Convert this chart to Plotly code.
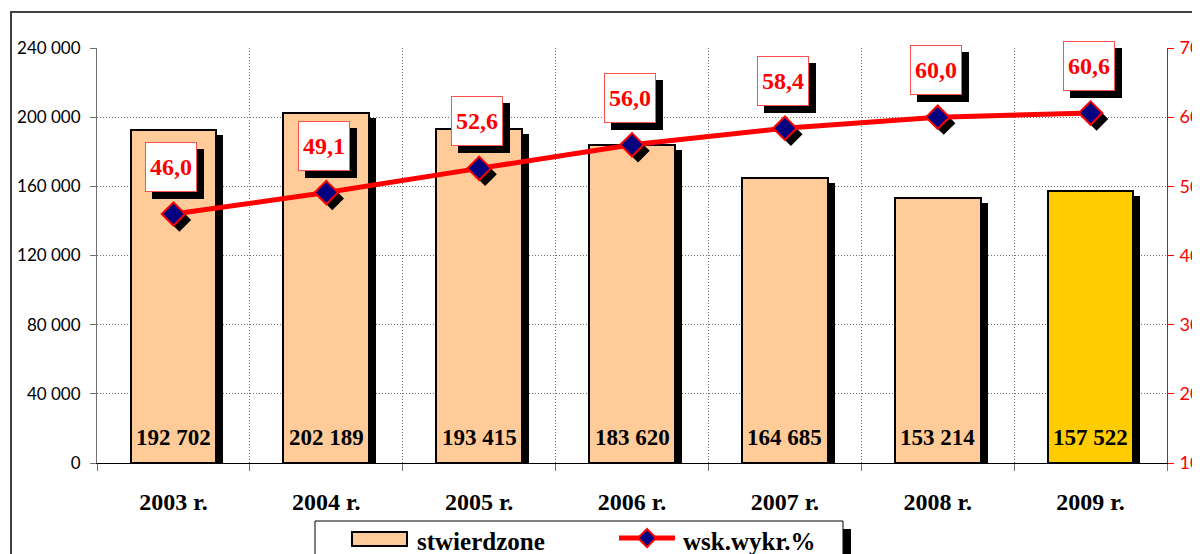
import plotly.graph_objects as go

# ---------------- data ----------------
years = ["2003 r.", "2004 r.", "2005 r.", "2006 r.", "2007 r.", "2008 r.", "2009 r."]
stwierdzone = [192702, 202189, 193415, 183620, 164685, 153214, 157522]
wsk_wykr = [46.0, 49.1, 52.6, 56.0, 58.4, 60.0, 60.6]
left_ticks = [0, 40000, 80000, 120000, 160000, 200000, 240000]
right_ticks = [10, 20, 30, 40, 50, 60, 70]
series_names = ["stwierdzone", "wsk.wykr.%"]

# ---------------- layout geometry / styles ----------------
OFF = 8  # page body margin
W, H = 1200 - OFF, 554 - OFF
PL, PR, PT, PB = 97 - OFF, 1167 - OFF, 48 - OFF, 463 - OFF
PW, PH = PR - PL, PB - PT
Y1 = (0, 240000)
Y2 = (10, 70)
N = len(years)
unit_px = PW / N  # px per category

PEACH, GOLD = "#FFCC99", "#FFCC00"
bar_colors = [PEACH] * (N - 1) + [GOLD]
SERIF = "Liberation Serif"
SANS = "Lato"
GRID = "#707070"
RED = "#FF0000"
NAVY = "#000080"

x = list(range(N))
bar_w = 0.56
bar_dx = 7 / unit_px
bar_dy = 5 * (Y1[1] - Y1[0]) / PH
mk_dx = 6 / unit_px
mk_dy = 6 * (Y2[1] - Y2[0]) / PH


def fmt_thousands(v):
    return f"{v:,}".replace(",", " ")


def fmt_dec(v):
    return f"{v:.1f}".replace(".", ",")


fig = go.Figure()

# bar shadows
fig.add_bar(
    x=x, y=[v - bar_dy for v in stwierdzone], width=bar_w,
    offset=-bar_w / 2 + bar_dx,
    marker=dict(color="black", line=dict(width=0)),
    showlegend=False, hoverinfo="skip",
)
# bars
fig.add_bar(
    x=x, y=stwierdzone, width=bar_w, offset=-bar_w / 2,
    marker=dict(color=bar_colors, line=dict(color="black", width=2)),
    name=series_names[0], showlegend=False,
)
# marker shadows
fig.add_scatter(
    x=[v + mk_dx for v in x], y=[v - mk_dy for v in wsk_wykr], yaxis="y2",
    mode="markers", marker=dict(symbol="diamond", size=18, color="black"),
    showlegend=False, hoverinfo="skip",
)
# line + markers
fig.add_scatter(
    x=x, y=wsk_wykr, yaxis="y2", mode="lines+markers", name=series_names[1],
    line=dict(color=RED, width=5),
    marker=dict(symbol="diamond", size=18, color=NAVY,
                line=dict(color=RED, width=2)),
    showlegend=False,
)

annotations = []
# bar value labels
for xi, v in zip(x, stwierdzone):
    annotations.append(dict(
        x=xi, y=0, xref="x", yref="y", text=fmt_thousands(v), showarrow=False,
        yanchor="bottom", yshift=11,
        font=dict(family=SERIF, size=23, color="black", weight="bold"),
    ))
# percentage labels with shadow boxes
for xi, v in zip(x, wsk_wykr):
    annotations.append(dict(
        x=xi, y=v, xref="x", yref="y2", text=" ", showarrow=False,
        xshift=-2 + 7, yshift=47 - 7, width=50, height=48,
        bgcolor="black", bordercolor="black", borderwidth=1, borderpad=0,
        font=dict(family=SERIF, size=24, color="black", weight="bold"),
    ))
    annotations.append(dict(
        x=xi, y=v, xref="x", yref="y2", text=fmt_dec(v), showarrow=False,
        xshift=-2, yshift=47, width=50, height=48,
        bgcolor="white", bordercolor="#FF5050", borderwidth=1, borderpad=0,
        font=dict(family=SERIF, size=24, color=RED, weight="bold"),
    ))


def px_x(p):
    return (p - OFF - PL) / PW


def px_y(p):
    return (PB - (p - OFF)) / PH


# legend (drawn by hand to match the reference swatches)
LEG_FONT = dict(family=SERIF, size=25, color="black", weight="bold")
annotations.append(dict(
    x=px_x(415), y=px_y(541), xref="paper", yref="paper", text=series_names[0],
    xanchor="left", yanchor="middle", showarrow=False, font=LEG_FONT,
))
annotations.append(dict(
    x=px_x(681), y=px_y(541), xref="paper", yref="paper", text=series_names[1],
    xanchor="left", yanchor="middle", showarrow=False, font=LEG_FONT,
))

dcx, dcy, dr = 647, 538, 9
diamond_path = (
    f"M {px_x(dcx)},{px_y(dcy - dr)} L {px_x(dcx + dr)},{px_y(dcy)} "
    f"L {px_x(dcx)},{px_y(dcy + dr)} L {px_x(dcx - dr)},{px_y(dcy)} Z"
)

shapes = [
    # outer frame
    dict(type="rect", xref="paper", yref="paper",
         x0=px_x(11), x1=px_x(1215), y0=px_y(575), y1=px_y(12),
         line=dict(color="#404040", width=2), layer="below"),
    # legend shadow
    dict(type="rect", xref="paper", yref="paper",
         x0=px_x(323), x1=px_x(851), y0=px_y(600), y1=px_y(529),
         fillcolor="black", line=dict(width=0), layer="above"),
    # legend box
    dict(type="rect", xref="paper", yref="paper",
         x0=px_x(315), x1=px_x(843), y0=px_y(600), y1=px_y(521),
         fillcolor="white", line=dict(color="black", width=1), layer="above"),
    # bar swatch
    dict(type="rect", xref="paper", yref="paper",
         x0=px_x(352), x1=px_x(407), y0=px_y(546), y1=px_y(532),
         fillcolor=PEACH, line=dict(color="black", width=2), layer="above"),
    # line swatch
    dict(type="line", xref="paper", yref="paper",
         x0=px_x(619), x1=px_x(675), y0=px_y(538), y1=px_y(538),
         line=dict(color=RED, width=5), layer="above"),
    # diamond swatch
    dict(type="path", xref="paper", yref="paper", path=diamond_path,
         fillcolor=NAVY, line=dict(color=RED, width=2), layer="above"),
]

fig.update_layout(
    width=W, height=H,
    margin=dict(l=PL, r=W - PR, t=PT, b=H - PB, autoexpand=False),
    paper_bgcolor="white", plot_bgcolor="white",
    barmode="overlay", bargap=0,
    showlegend=False,
    xaxis=dict(
        range=[-0.5, N - 0.5], tickmode="array", tickvals=x, ticktext=years,
        ticks="", showgrid=False, zeroline=False,
        showline=True, linecolor="black", linewidth=1,
        tickfont=dict(family=SERIF, size=24, color="black", weight="bold"),
        ticklabelstandoff=17,
        minor=dict(tick0=-0.5, dtick=1, ticks="outside", ticklen=7,
                   tickcolor=GRID, showgrid=True, gridcolor=GRID,
                   griddash="1px,2px", gridwidth=1),
        automargin=False,
    ),
    yaxis=dict(
        range=list(Y1), tickmode="array", tickvals=left_ticks,
        ticktext=[fmt_thousands(v) for v in left_ticks],
        ticks="outside", ticklen=6, tickcolor=GRID,
        showline=True, linecolor=GRID, linewidth=1,
        showgrid=True, gridcolor=GRID, griddash="1px,2px", gridwidth=1,
        zeroline=False,
        tickfont=dict(family=SANS, size=17, color="black"),
        ticklabelstandoff=6,
        automargin=False,
    ),
    yaxis2=dict(
        range=list(Y2), overlaying="y", side="right", tickmode="array",
        tickvals=right_ticks, ticks="outside", ticklen=6, tickcolor=RED,
        showline=True, linecolor=RED, linewidth=1,
        showgrid=False, zeroline=False,
        tickfont=dict(family=SANS, size=18, color=RED),
        ticklabelstandoff=2,
        automargin=False,
    ),
    annotations=annotations,
    shapes=shapes,
)

fig.write_html("out.html")
